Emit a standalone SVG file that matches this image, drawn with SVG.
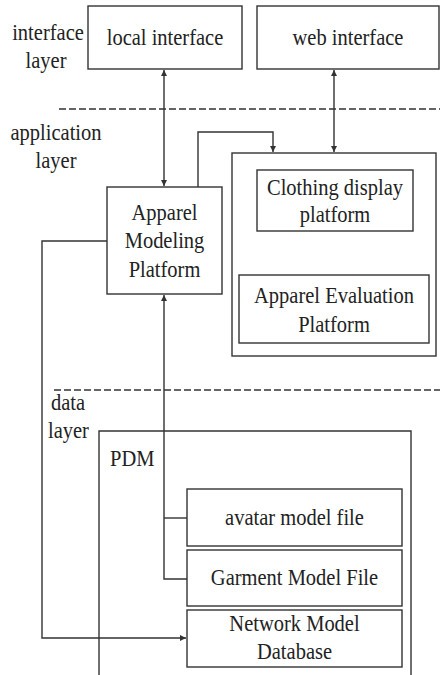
<svg xmlns="http://www.w3.org/2000/svg" width="440" height="675" viewBox="0 0 440 675">
<defs>
<style>
.box{fill:#fff;stroke:#333;stroke-width:1.4}
.open{fill:none;stroke:#333;stroke-width:1.4}
.t{font-family:"Liberation Serif","Times New Roman",serif;font-size:20.5px;fill:#222}
.m{text-anchor:middle}
.c{fill:none;stroke:#333;stroke-width:1.4}
.d{fill:none;stroke:#333;stroke-width:1.4;stroke-dasharray:7 3}
</style>
<marker id="ah" viewBox="0 0 10 10" refX="10" refY="5" markerWidth="6" markerHeight="8" markerUnits="userSpaceOnUse" orient="auto-start-reverse"><path d="M0,0 L10,5 L0,10 z" fill="#333"/></marker>
</defs>
<rect width="440" height="675" fill="#fff"/>
<g id="layers">
<line class="d" x1="59" y1="109" x2="440" y2="109"/>
<line class="d" x1="54" y1="390" x2="440" y2="390"/>
<text class="t m" transform="translate(48,40) scale(1,1.15)">interface</text>
<text class="t m" transform="translate(46,68) scale(1,1.15)">layer</text>
<text class="t m" transform="translate(56,140) scale(1,1.15)">application</text>
<text class="t m" transform="translate(56,168) scale(1,1.15)">layer</text>
<text class="t" transform="translate(51,410) scale(1,1.15)">data</text>
<text class="t" transform="translate(48,438) scale(1,1.15)">layer</text>
</g>
<g id="pdm">
<path class="open" d="M99,675 V431 H411 V675"/>
<text class="t" transform="translate(110,466) scale(1,1.15)">PDM</text>
</g>
<g id="local-interface"><rect class="box" x="88" y="6" width="154" height="63"/><text class="t m" transform="translate(165,45) scale(1,1.15)">local interface</text></g>
<g id="web-interface"><rect class="box" x="257" y="6" width="182" height="63"/><text class="t m" transform="translate(348,45) scale(1,1.15)">web interface</text></g>
<g id="app-group"><rect class="box" x="232" y="153" width="204" height="203"/></g>
<g id="clothing-display"><rect class="box" x="257" y="170" width="156" height="61"/><text class="t m" transform="translate(335,195) scale(1,1.15)">Clothing display</text><text class="t m" transform="translate(335,222) scale(1,1.15)">platform</text></g>
<g id="apparel-evaluation"><rect class="box" x="239" y="275" width="190" height="68"/><text class="t m" transform="translate(334,303) scale(1,1.15)">Apparel Evaluation</text><text class="t m" transform="translate(334,332) scale(1,1.15)">Platform</text></g>
<g id="apparel-modeling"><rect class="box" x="107" y="187" width="115" height="107"/><text class="t m" transform="translate(164.5,220) scale(1,1.15)">Apparel</text><text class="t m" transform="translate(164.5,248) scale(1,1.15)">Modeling</text><text class="t m" transform="translate(164.5,277) scale(1,1.15)">Platform</text></g>
<g id="avatar-file"><rect class="box" x="187" y="489" width="215" height="57"/><text class="t m" transform="translate(294.5,525) scale(1,1.15)">avatar model file</text></g>
<g id="garment-file"><rect class="box" x="187" y="550" width="215" height="56"/><text class="t m" transform="translate(294.5,585) scale(1,1.15)">Garment Model File</text></g>
<g id="network-db"><rect class="box" x="187" y="610" width="215" height="57"/><text class="t m" transform="translate(294.5,631) scale(1,1.15)">Network Model</text><text class="t m" transform="translate(294.5,659) scale(1,1.15)">Database</text></g>
<g id="connectors">
<line class="c" x1="164" y1="70" x2="164" y2="186" marker-start="url(#ah)" marker-end="url(#ah)"/>
<line class="c" x1="334" y1="70" x2="334" y2="152" marker-start="url(#ah)" marker-end="url(#ah)"/>
<path class="c" d="M198,187 V132 H273 V152" marker-end="url(#ah)"/>
<path class="c" d="M107,241 H42 V638 H186" marker-end="url(#ah)"/>
<path class="c" d="M164,295 V579 H187" marker-start="url(#ah)"/>
<line class="c" x1="164" y1="518" x2="187" y2="518"/>
</g>
</svg>
